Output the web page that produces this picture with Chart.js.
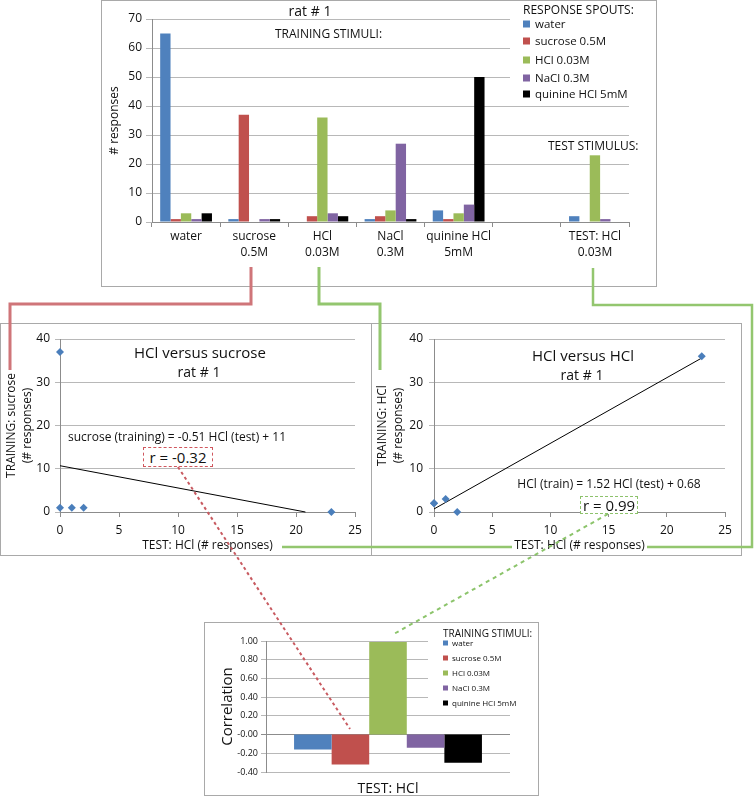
<!DOCTYPE html>
<html>
<head>
<meta charset="utf-8">
<script src="https://cdn.jsdelivr.net/npm/chart.js@4.4.1/dist/chart.umd.min.js"></script>
<style>
  html, body { margin: 0; padding: 0; background: #fff; }
  #page { position: relative; width: 756px; height: 796px; overflow: hidden; font-family: 'Open Sans', sans-serif; color: #111; }
  .frame { position: absolute; border: 1px solid #a9a9a9; box-sizing: border-box; }
  canvas { position: absolute; }
  .t { position: absolute; white-space: nowrap; line-height: 1; transform: translate(-50%, -50%); }
  .l { transform: translate(0, -50%); }
  .bg { position: absolute; background: #fff; }
  .sw { position: absolute; transform: translate(0, -50%); }
  .rbox { position: absolute; box-sizing: border-box; background: #fff; display: flex; align-items: center; justify-content: center; font-size: 15px; line-height: 1; }
  svg { position: absolute; left: 0; top: 0; pointer-events: none; }
</style>
</head>
<body>
<div id="page">
  <!-- рамки -->
  <div class="frame" style="left:101px;top:0;width:556px;height:287px"></div>
  <div class="frame" style="left:0;top:323px;width:372px;height:233px"></div>
  <div class="frame" style="left:371px;top:323px;width:371px;height:233px"></div>
  <div class="frame" style="left:204px;top:622px;width:335px;height:174px"></div>

  <canvas id="countsChart" width="555" height="286" style="left:101px;top:0"></canvas>
  <canvas id="sucroseChart" width="371" height="232" style="left:0;top:323px"></canvas>
  <canvas id="hclChart" width="371" height="232" style="left:371px;top:323px"></canvas>
  <canvas id="corrChart" width="334" height="173" style="left:204px;top:622px"></canvas>

  <!-- верхний график: подписи и легенда -->
  <div class="t" style="left:310px;top:11px;font-size:14px">rat # 1</div>
  <div class="t l" style="left:275px;top:34px;font-size:12px">TRAINING STIMULI:</div>
  <div class="t l" style="left:548px;top:146px;font-size:12px">TEST STIMULUS:</div>
  <div class="bg" style="left:510px;top:1px;width:145px;height:100px"></div>
  <div class="t l" style="left:523px;top:10px;font-size:12px">RESPONSE SPOUTS:</div>
  <div id="topLegend"></div>

  <!-- левый scatter -->
  <div class="t" style="left:200px;top:352px;font-size:15px">HCl versus sucrose</div>
  <div class="t" style="left:199px;top:372px;font-size:14px">rat # 1</div>
  <div class="t" style="left:177px;top:437px;font-size:12px">sucrose (training) = -0.51 HCl (test) + 11</div>
  <div class="rbox" style="left:143px;top:447px;width:70px;height:20px;border:1px dashed #d0575e">r = -0.32</div>

  <!-- правый scatter -->
  <div class="t" style="left:583px;top:355px;font-size:15px">HCl versus HCl</div>
  <div class="t" style="left:582px;top:375px;font-size:14px">rat # 1</div>
  <div class="t" style="left:609px;top:484px;font-size:12px">HCl (train) = 1.52 HCl (test) + 0.68</div>
  <div class="rbox" style="left:580px;top:496px;width:58px;height:18px;border:1px dashed #8dc26b">r = 0.99</div>

  <!-- нижний график: легенда -->
  <div class="bg" style="left:428px;top:627px;width:108px;height:84px"></div>
  <div class="t l" style="left:443px;top:633px;font-size:10px">TRAINING STIMULI:</div>
  <div id="bottomLegend"></div>

  <!-- соединительные линии -->
  <svg width="756" height="796">
    <polyline points="251,267 251,304 10,304 10,370" fill="none" stroke="#cf7579" stroke-width="3"/>
    <polyline points="319,267 319,304 380,304 380,370" fill="none" stroke="#93c66f" stroke-width="3"/>
    <polyline points="593,268 593,305 752,305 752,547 647,547" fill="none" stroke="#93c66f" stroke-width="2.5"/>
    <line x1="512" y1="547" x2="282" y2="547" stroke="#93c66f" stroke-width="2.5"/>
    <line x1="178" y1="467" x2="350" y2="729" stroke="#c85a60" stroke-width="2" stroke-dasharray="3 3"/>
    <line x1="608" y1="514" x2="392" y2="635" stroke="#8cc46b" stroke-width="2" stroke-dasharray="4 4"/>
  </svg>
</div>

<script>
// ======================== ДАННЫЕ ========================
const spouts = ['water', 'sucrose 0.5M', 'HCl 0.03M', 'NaCl 0.3M', 'quinine HCl 5mM'];
const spoutColors = ['#4f81bd', '#c0504d', '#9bbb59', '#8064a2', '#000000'];

// стимулы (категории верхнего графика), пустая колонка перед тестом
const stimulusLabels = [['water'], ['sucrose', '0.5M'], ['HCl', '0.03M'], ['NaCl', '0.3M'], ['quinine HCl', '5mM'], '', ['TEST: HCl', '0.03M']];

// число ответов на каждом носике, по стимулам
const waterCounts   = [65, 1, 0, 1, 4, null, 2];
const sucroseCounts = [1, 37, 2, 2, 1, null, 0];
const hclCounts     = [3, 0, 36, 4, 3, null, 23];
const naclCounts    = [1, 1, 3, 27, 6, null, 1];
const quinineCounts = [3, 1, 2, 1, 50, null, 0];

const countTicks = { min: 0, max: 70, step: 10 };
const scatterTicksX = { min: 0, max: 25, step: 5 };
const scatterTicksY = { min: 0, max: 40, step: 10 };

// линии тренда (концы, как на картинке)
const sucroseTrend = [{ x: 0, y: 10.7 }, { x: 20.8, y: 0 }];
const hclTrend = [{ x: 0, y: 0.7 }, { x: 23, y: 35.6 }];

// корреляции тест HCl против каждого тренировочного стимула
const correlations = [-0.16, -0.32, 0.99, -0.14, -0.30];
const corrTicks = { min: -0.4, max: 1.0, step: 0.2 };

const SUCROSE_STIM = 1, HCL_STIM = 2, TEST_STIM = 6;
const spoutCounts = [waterCounts, sucroseCounts, hclCounts, naclCounts, quinineCounts];

// ======================== ОБЩЕЕ ========================
const FONT = "'Open Sans', sans-serif";
const GRID = '#b8b8b8';
const AXIS = '#8c8c8c';
const TEXT = '#111';
Chart.defaults.font.family = FONT;
Chart.defaults.color = TEXT;

const baseOptions = {
  responsive: false,
  animation: false,
  events: [],
  plugins: { legend: { display: false }, tooltip: { enabled: false }, title: { display: false } }
};

function fixWidth(w) { return scale => { scale.width = w; }; }
function fixHeight(h) { return scale => { scale.height = h; }; }

// ======================== ВЕРХНИЙ ГРАФИК ========================
new Chart(document.getElementById('countsChart'), {
  type: 'bar',
  data: {
    labels: stimulusLabels,
    datasets: spoutCounts.map((c, i) => ({
      label: spouts[i], data: c, backgroundColor: spoutColors[i],
      categoryPercentage: 0.76, barPercentage: 1.0
    }))
  },
  options: {
    ...baseOptions,
    layout: { padding: { top: 19, right: 27, left: 0, bottom: 0 } },
    scales: {
      x: {
        afterFit: fixHeight(64),
        grid: { drawOnChartArea: false, tickLength: 5, color: AXIS },
        border: { color: AXIS },
        ticks: { font: { size: 12, lineHeight: 1.3 }, padding: 2, maxRotation: 0, autoSkip: false }
      },
      y: {
        min: countTicks.min, max: countTicks.max,
        afterFit: fixWidth(51),
        grid: { color: GRID, tickLength: 6 },
        border: { color: AXIS },
        ticks: { stepSize: countTicks.step, font: { size: 12 }, padding: 4 },
        title: { display: true, text: '# responses', font: { size: 12 }, padding: { top: 6, bottom: 0 } }
      }
    }
  }
});

// ======================== SCATTER ========================
function scatterChart(id, points, trend, yTitle, yWidth, rightPad, tickPad) {
  return new Chart(document.getElementById(id), {
    type: 'scatter',
    data: {
      datasets: [
        { data: points, pointStyle: 'rectRot', pointRadius: 4, backgroundColor: '#4a7ebb', borderWidth: 0, clip: false },
        { type: 'line', data: trend, borderColor: '#000', borderWidth: 1, pointRadius: 0, fill: false, clip: false }
      ]
    },
    options: {
      ...baseOptions,
      layout: { padding: { top: 16, right: rightPad, left: 0, bottom: 0 } },
      scales: {
        x: {
          type: 'linear', min: scatterTicksX.min, max: scatterTicksX.max,
          afterFit: fixHeight(43),
          grid: { drawOnChartArea: false, tickLength: 5, color: AXIS },
          border: { color: AXIS },
          ticks: { stepSize: scatterTicksX.step, font: { size: 12 }, padding: 6 },
          title: { display: true, text: 'TEST: HCl (# responses)', font: { size: 12 }, padding: { top: 0, bottom: 2 } }
        },
        y: {
          min: scatterTicksY.min, max: scatterTicksY.max,
          afterFit: fixWidth(yWidth),
          grid: { color: GRID, tickLength: 5 },
          border: { color: AXIS },
          ticks: { stepSize: scatterTicksY.step, font: { size: 12 }, padding: tickPad },
          title: { display: true, text: yTitle, font: { size: 12, lineHeight: 1.33 }, padding: { top: 4, bottom: 0 } }
        }
      }
    }
  });
}

const sucrosePoints = spoutCounts.map(c => ({ x: c[TEST_STIM], y: c[SUCROSE_STIM] }));
const hclPoints = spoutCounts.map(c => ({ x: c[TEST_STIM], y: c[HCL_STIM] }));
scatterChart('sucroseChart', sucrosePoints, sucroseTrend, ['TRAINING: sucrose', '(# responses)'], 60, 16, 5);
scatterChart('hclChart', hclPoints, hclTrend, ['TRAINING: HCl', '(# responses)'], 63, 17, 6);

// ======================== КОРРЕЛЯЦИИ ========================
new Chart(document.getElementById('corrChart'), {
  type: 'bar',
  data: {
    labels: ['TEST: HCl'],
    datasets: correlations.map((v, i) => ({
      label: spouts[i], data: [v], backgroundColor: spoutColors[i],
      categoryPercentage: 0.77, barPercentage: 1.0
    }))
  },
  options: {
    ...baseOptions,
    layout: { padding: { top: 19, right: 28, left: 0, bottom: 0 } },
    scales: {
      x: {
        afterFit: fixHeight(23),
        grid: { display: false },
        border: { display: false },
        ticks: { font: { size: 14 }, padding: 1 }
      },
      y: {
        min: corrTicks.min, max: corrTicks.max,
        afterFit: fixWidth(62),
        grid: { color: ctx => (Math.abs(ctx.tick.value) < 1e-9 ? AXIS : GRID), tickLength: 5 },
        border: { color: AXIS },
        ticks: { stepSize: corrTicks.step, font: { size: 9 }, padding: 3, callback: v => v.toFixed(2) },
        title: { display: true, text: 'Correlation', font: { size: 15 }, padding: { top: 15, bottom: 0 } }
      }
    }
  }
});

// ======================== ЛЕГЕНДЫ ========================
function buildLegend(id, left, tops, sq, textLeft, size) {
  const host = document.getElementById(id);
  spouts.forEach((name, i) => {
    const s = document.createElement('div');
    s.className = 'sw';
    s.style.cssText = `left:${left}px;top:${tops[i]}px;width:${sq}px;height:${sq}px;background:${spoutColors[i]}`;
    host.appendChild(s);
    const t = document.createElement('div');
    t.className = 't l';
    t.style.cssText = `left:${textLeft}px;top:${tops[i]}px;font-size:${size}px`;
    t.textContent = name;
    host.appendChild(t);
  });
}
buildLegend('topLegend', 523, [24, 41, 60, 78, 94], 7, 535, 11.5);
buildLegend('bottomLegend', 443, [643, 658, 673, 688, 703], 5, 452, 8);
</script>
</body>
</html>
